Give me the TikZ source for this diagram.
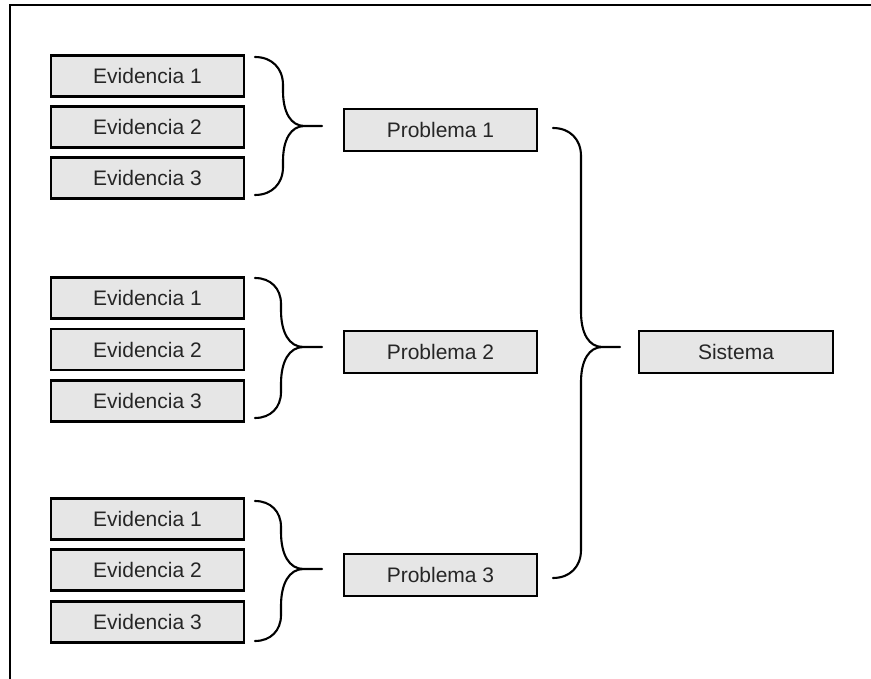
\documentclass[tikz,border=0pt]{standalone}
\usepackage{fontspec}
\setmainfont{Liberation Sans}
\usetikzlibrary{calc}
\definecolor{boxfill}{HTML}{E6E6E6}
\definecolor{txt}{HTML}{262626}

% curly brace opening to the right:
% #1 end x, #2 bar x, #3 tip x, #4 top y, #5 tip y, #6 bottom y
\newcommand{\rightcurly}[6]{%
  \draw[bracestyle]
    (#1,#4) .. controls ({#1+0.6*(#2-#1)},#4) and (#2,{#4+0.4*(#2-#1)}) .. (#2,{#4+(#2-#1)})
    -- (#2,{#5-0.9*(#3-#2)})
    .. controls (#2,{#5-0.35*(#3-#2)}) and ({#2+0.2*(#3-#2)},#5) .. ({#2+0.55*(#3-#2)},#5)
    -- (#3,#5)
    (#3,#5) -- ({#2+0.55*(#3-#2)},#5)
    .. controls ({#2+0.2*(#3-#2)},#5) and (#2,{#5+0.35*(#3-#2)}) .. (#2,{#5+0.9*(#3-#2)})
    -- (#2,{#6-(#2-#1)})
    .. controls (#2,{#6-0.4*(#2-#1)}) and ({#1+0.6*(#2-#1)},#6) .. (#1,#6);%
}

\tikzset{
  box/.style={draw=black, line width=2.6pt, fill=boxfill, minimum width=193pt,
    inner sep=0pt, text=txt, font=\fontsize{21}{25}\selectfont},
  evid/.style={box, minimum height=41pt},
  prob/.style={box, minimum height=42pt},
  bracestyle/.style={draw=black, line width=2.1pt, line cap=round, line join=round},
  frame/.style={draw=black, line width=2pt}
}

\begin{document}
\begin{tikzpicture}[x=1pt,y=-1pt]
\useasboundingbox (0,0) rectangle (871,679);

% frame edges
\coordinate (fTL) at (10,5.5);
\coordinate (fTR) at (871,5.5);
\coordinate (fBL) at (10,679);
\draw[frame] (fTR) -- (fTL) -- (fBL);

% evidence boxes
\node[evid] (e11) at (147.5,76)  {Evidencia 1};
\node[evid] (e12) at (147.5,127) {Evidencia 2};
\node[evid] (e13) at (147.5,178) {Evidencia 3};

\node[evid] (e21) at (147.5,298) {Evidencia 1};
\node[evid] (e22) at (147.5,349.5) {Evidencia 2};
\node[evid] (e23) at (147.5,401) {Evidencia 3};

\node[evid] (e31) at (147.5,519) {Evidencia 1};
\node[evid] (e32) at (147.5,570) {Evidencia 2};
\node[evid] (e33) at (147.5,622) {Evidencia 3};

% problems
\node[prob] (p1) at (440.5,130) {Problema 1};
\node[prob] (p2) at (440.5,352) {Problema 2};
\node[prob] (p3) at (440.5,575) {Problema 3};

% system
\node[prob, minimum width=194pt] (sys) at (736,352) {Sistema};

% braces grouping evidences into problems
\rightcurly{255}{283}{322}{57}{126}{195}
\rightcurly{255}{281}{322}{278}{347}{418}
\rightcurly{255}{281}{322}{501}{569}{641}

% brace grouping problems into the system
\rightcurly{553}{581}{620}{128}{347}{578}
\end{tikzpicture}
\end{document}
